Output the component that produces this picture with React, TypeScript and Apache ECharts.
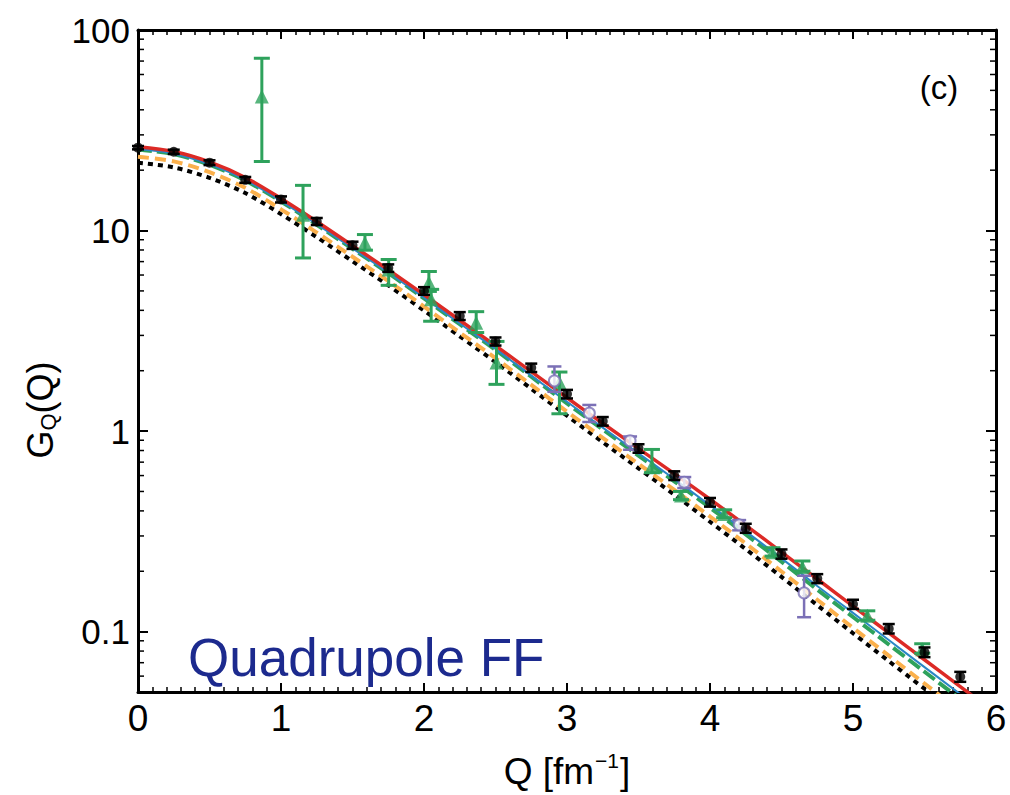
import React, { useEffect, useRef } from "react";
import * as echarts from "echarts";

// ---- axis / tick data ----
const X_MIN = 0;
const X_MAX = 6;
const Y_MIN = 0.05;
const Y_MAX = 100;
const yTickValues = [0.1, 1, 10, 100];
const yTickLabels = ["0.1", "1", "10", "100"];
const yMinorTicks = [
  0.06, 0.07, 0.08, 0.09, 0.2, 0.3, 0.4, 0.5, 0.6, 0.7, 0.8, 0.9, 2, 3, 4, 5, 6, 7, 8, 9, 20, 30, 40, 50, 60, 70, 80, 90,
];

// ---- theory curves ----
const curveQ = [0, 0.25, 0.5, 0.75, 1, 1.25, 1.5, 1.75, 2, 2.25, 2.5, 2.75, 3, 3.25, 3.5, 3.75, 4, 4.25, 4.5, 4.75, 5, 5.25, 5.5, 5.75, 6];
const redCurve = [26.2, 24.8, 22.0, 18.4, 14.45, 11.1, 8.41, 6.38, 4.79, 3.57, 2.67, 1.98, 1.466, 1.094, 0.818, 0.614, 0.457, 0.339, 0.249, 0.183, 0.134, 0.0986, 0.0724, 0.0532, 0.0391];
const blueCurve = [25.47, 24.15, 21.38, 17.91, 14.03, 10.76, 8.15, 6.18, 4.62, 3.44, 2.57, 1.89, 1.4, 1.04, 0.774, 0.577, 0.427, 0.316, 0.232, 0.169, 0.124, 0.0908, 0.0665, 0.0488, 0.0357];
const greenCurve = [25.35, 24.04, 21.28, 17.78, 13.96, 10.69, 8.11, 6.14, 4.59, 3.41, 2.54, 1.866, 1.374, 1.019, 0.755, 0.562, 0.415, 0.3055, 0.2234, 0.162, 0.1183, 0.0863, 0.0631, 0.0461, 0.0337];
const orangeCurve = [23.33, 22.13, 19.54, 16.33, 12.76, 9.77, 7.4, 5.6, 4.18, 3.1, 2.31, 1.7, 1.25, 0.925, 0.686, 0.509, 0.375, 0.275, 0.1995, 0.1442, 0.1045, 0.0759, 0.0551, 0.0401, 0.0292];
const dottedCurve = [21.78, 20.65, 18.32, 15.38, 12.08, 9.27, 7.03, 5.33, 3.99, 2.97, 2.21, 1.626, 1.194, 0.881, 0.652, 0.482, 0.353, 0.258, 0.1875, 0.1355, 0.0982, 0.0713, 0.0519, 0.0378, 0.0275];

// ---- black data points ----
const blackQ = [0, 0.25, 0.5, 0.75, 1, 1.25, 1.5, 1.75, 2, 2.25, 2.5, 2.75, 3, 3.25, 3.5, 3.75, 4, 4.25, 4.5, 4.75, 5, 5.25, 5.5, 5.75];
const blackG = [25.9, 24.7, 21.8, 17.9, 14.3, 11.1, 8.45, 6.5, 5.0, 3.75, 2.8, 2.07, 1.53, 1.12, 0.82, 0.6, 0.442, 0.328, 0.244, 0.184, 0.137, 0.1035, 0.079, 0.0596];
const blackErr = [0.5, 0.6, 0.6, 0.6, 0.5, 0.45, 0.35, 0.28, 0.22, 0.17, 0.13, 0.1, 0.075, 0.055, 0.04, 0.03, 0.022, 0.017, 0.013, 0.0095, 0.0072, 0.0056, 0.0044, 0.0034];

// ---- green triangles ----
const greenQ = [0.866, 1.154, 1.587, 1.753, 2.034, 2.05, 2.365, 2.507, 2.947, 3.594, 3.797, 4.099, 4.437, 4.646, 5.1, 5.484];
const greenG = [46.6, 12.0, 8.69, 6.4, 5.5, 4.54, 3.47, 2.2, 1.75, 0.672, 0.477, 0.386, 0.249, 0.21, 0.12, 0.0817];
const greenLo = [22.1, 7.3, 7.98, 5.33, 4.97, 3.53, 3.1, 1.71, 1.22, 0.62, 0.455, 0.37, 0.238, 0.2, 0.114, 0.078];
const greenHi = [72.3, 16.8, 9.55, 7.17, 6.25, 5.09, 3.94, 2.8, 1.97, 0.81, 0.5, 0.405, 0.262, 0.225, 0.127, 0.087];

// ---- purple circles ----
const purpleQ = [2.912, 3.156, 3.441, 3.82, 4.204, 4.658];
const purpleG = [1.78, 1.23, 0.895, 0.556, 0.341, 0.156];
const purpleLo = [1.57, 1.11, 0.807, 0.52, 0.32, 0.118];
const purpleHi = [2.1, 1.35, 0.94, 0.59, 0.36, 0.19];

const RED = "#dc2a26";
const BLUE = "#2a86c6";
const GREEN = "#2ea25c";
const ORANGE = "#fbb04c";
const PURPLE = "#7b70b6";
const NAVY = "#1c2a8e";

const SANS = "'Liberation Sans', Arial, Helvetica, sans-serif";
const NARROW = "'Liberation Sans Narrow', 'Liberation Sans', sans-serif";

function curveData(ys: number[]) {
  return curveQ.map((q, i) => [q, ys[i]]);
}

function errorBarSeries(data: number[][], color: string, half: number, width: number, z: number) {
  return {
    type: "custom",
    coordinateSystem: "cartesian2d",
    xAxisIndex: 0,
    yAxisIndex: 0,
    silent: true,
    z,
    data,
    encode: { x: 0, y: [1, 2, 3] },
    renderItem: (params: any, api: any) => {
      const q = api.value(0);
      const lo = api.coord([q, api.value(2)]);
      const hi = api.coord([q, api.value(3)]);
      const st = { stroke: color, lineWidth: width };
      return {
        type: "group",
        children: [
          { type: "line", shape: { x1: lo[0], y1: lo[1], x2: hi[0], y2: hi[1] }, style: st },
          { type: "line", shape: { x1: lo[0] - half, y1: lo[1], x2: lo[0] + half, y2: lo[1] }, style: st },
          { type: "line", shape: { x1: hi[0] - half, y1: hi[1], x2: hi[0] + half, y2: hi[1] }, style: st },
        ],
      };
    },
  };
}

function buildOption() {
  const axisLine = { show: true, onZero: false, lineStyle: { color: "#000", width: 3 } };
  const xTick = { show: true, inside: true, length: 9, lineStyle: { color: "#000", width: 2 } };
  const xMinor = { show: true, splitNumber: 10, length: 5, lineStyle: { color: "#000", width: 1.5 } };
  const yTick = { show: true, inside: true, length: 10, lineStyle: { color: "#000", width: 2 } };

  const yFormatter = (v: number) => {
    for (let i = 0; i < yTickValues.length; i++) {
      if (Math.abs(v - yTickValues[i]) / yTickValues[i] < 1e-6) return yTickLabels[i];
    }
    return "";
  };

  const blackBars = blackQ.map((q, i) => [q, blackG[i], blackG[i] - blackErr[i], blackG[i] + blackErr[i]]);
  const greenBars = greenQ.map((q, i) => [q, greenG[i], greenLo[i], greenHi[i]]);
  const purpleBars = purpleQ.map((q, i) => [q, purpleG[i], purpleLo[i], purpleHi[i]]);

  return {
    animation: false,
    backgroundColor: "#ffffff",
    grid: { left: 138, right: 14, top: 30, bottom: 103, containLabel: false },
    xAxis: [
      {
        type: "value",
        min: X_MIN,
        max: X_MAX,
        interval: 1,
        position: "bottom",
        axisLine,
        axisTick: xTick,
        minorTick: xMinor,
        splitLine: { show: false },
        minorSplitLine: { show: false },
        axisLabel: { color: "#000", fontSize: 37, fontFamily: NARROW, margin: 8 },
        name: "{t|Q [fm}{s|−1}{t|]}",
        nameLocation: "middle",
        nameGap: 58,
        nameTextStyle: {
          color: "#000",
          fontFamily: NARROW,
          fontSize: 37,
          rich: {
            t: { fontSize: 37, fontFamily: NARROW, color: "#000" },
            s: { fontSize: 21, fontFamily: NARROW, color: "#000", padding: [0, 1, 22, 1] },
          },
        },
      },
      {
        type: "value",
        min: X_MIN,
        max: X_MAX,
        interval: 1,
        position: "top",
        axisLine,
        axisTick: xTick,
        minorTick: xMinor,
        splitLine: { show: false },
        axisLabel: { show: false },
      },
    ],
    yAxis: [
      {
        type: "log",
        logBase: 10,
        min: Y_MIN,
        max: Y_MAX,
        position: "left",
        axisLine,
        axisTick: yTick,
        splitLine: { show: false },
        axisLabel: { color: "#000", fontSize: 35, fontFamily: SANS, margin: 8, formatter: yFormatter },
      },
      {
        type: "log",
        logBase: 10,
        min: Y_MIN,
        max: Y_MAX,
        position: "right",
        axisLine,
        axisTick: yTick,
        splitLine: { show: false },
        axisLabel: { show: false },
      },
    ],
    graphic: [
      {
        type: "text",
        x: 40,
        y: 410,
        rotation: Math.PI / 2,
        z: 20,
        style: {
          text: "{g|G}{s|Q}{g|(Q)}",
          align: "center",
          verticalAlign: "middle",
          fill: "#000",
          font: `36px ${SANS}`,
          rich: {
            g: { fontSize: 36, fontFamily: SANS, fill: "#000" },
            s: { fontSize: 22, fontFamily: SANS, fill: "#000", padding: [16, 0, 0, 0] },
          },
        },
      },
      {
        type: "text",
        x: 188,
        y: 657,
        z: 20,
        style: { text: "Quadrupole FF", fill: NAVY, font: `53px ${SANS}`, verticalAlign: "middle" },
      },
      {
        type: "text",
        x: 939,
        y: 87,
        z: 20,
        style: { text: "(c)", fill: "#000", font: `33px ${SANS}`, align: "center", verticalAlign: "middle" },
      },
    ],
    series: [
      // minor ticks on the log axes (left and right)
      {
        type: "custom",
        coordinateSystem: "cartesian2d",
        silent: true,
        z: 10,
        data: yMinorTicks.map((v) => [X_MIN, v]),
        renderItem: (params: any, api: any) => {
          const v = api.value(1);
          const l = api.coord([X_MIN, v]);
          const r = api.coord([X_MAX, v]);
          const st = { stroke: "#000", lineWidth: 1.5 };
          return {
            type: "group",
            children: [
              { type: "line", shape: { x1: l[0], y1: l[1], x2: l[0] + 6, y2: l[1] }, style: st },
              { type: "line", shape: { x1: r[0] - 6, y1: r[1], x2: r[0], y2: r[1] }, style: st },
            ],
          };
        },
      },
      {
        type: "line",
        data: curveData(dottedCurve),
        showSymbol: false,
        smooth: 0.3,
        z: 2,
        lineStyle: { color: "#000", width: 4, type: [5, 5] },
      },
      {
        type: "line",
        data: curveData(orangeCurve),
        showSymbol: false,
        smooth: 0.3,
        z: 2,
        lineStyle: { color: ORANGE, width: 4, type: [11, 6] },
      },
      {
        type: "line",
        data: curveData(greenCurve),
        showSymbol: false,
        smooth: 0.3,
        z: 2,
        lineStyle: { color: GREEN, width: 4, type: [14, 5] },
      },
      {
        type: "line",
        data: curveData(blueCurve),
        showSymbol: false,
        smooth: 0.3,
        z: 2,
        lineStyle: { color: BLUE, width: 2 },
      },
      {
        type: "line",
        data: curveData(redCurve),
        showSymbol: false,
        smooth: 0.3,
        z: 2,
        lineStyle: { color: RED, width: 3.5 },
      },
      errorBarSeries(greenBars, GREEN, 8, 3, 3),
      {
        type: "scatter",
        data: greenQ.map((q, i) => [q, greenG[i]]),
        symbol: "triangle",
        symbolSize: 14,
        z: 4,
        itemStyle: { color: GREEN },
      },
      errorBarSeries(purpleBars, PURPLE, 7, 2.5, 5),
      {
        type: "scatter",
        data: purpleQ.map((q, i) => [q, purpleG[i]]),
        symbol: "emptyCircle",
        symbolSize: 11,
        z: 6,
        itemStyle: { color: PURPLE, borderColor: PURPLE, borderWidth: 2 },
      },
      errorBarSeries(blackBars, "#000", 6, 2.5, 7),
      {
        type: "scatter",
        data: blackQ.map((q, i) => [q, blackG[i]]),
        symbol: "circle",
        symbolSize: 10,
        z: 8,
        itemStyle: { color: "#000" },
      },
    ],
  };
}

export default function App() {
  const ref = useRef<HTMLDivElement>(null);
  useEffect(() => {
    if (!ref.current) return;
    const chart = echarts.init(ref.current, null, { renderer: "svg" });
    chart.setOption(buildOption() as any);
    return () => chart.dispose();
  }, []);
  return (
    <div
      ref={ref}
      style={{ position: "fixed", left: 0, top: 0, width: 1010, height: 795, background: "#fff" }}
    />
  );
}
